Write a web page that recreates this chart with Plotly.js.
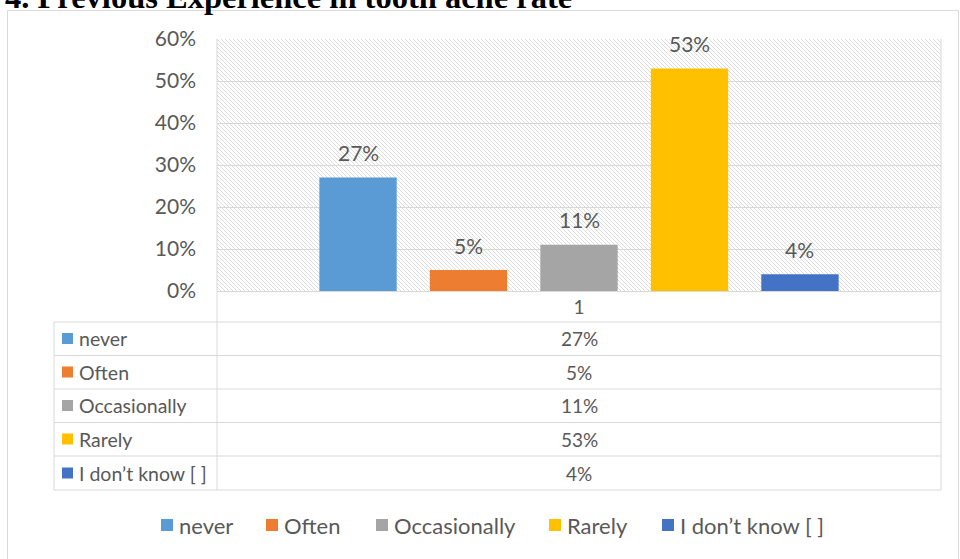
<!DOCTYPE html>
<html><head><meta charset="utf-8">
<script src="https://cdn.plot.ly/plotly-3.0.1.min.js"></script>
<style>html,body{margin:0;padding:0;background:#fff}#chart{width:960px;height:559px}</style>
</head><body><div id="chart"></div>
<script>
// ---- data ----
const chartTitle = "4. Previous Experience in tooth ache rate";
const category = ["1"];
const seriesNames = ["never", "Often", "Occasionally", "Rarely", "I don\u2019t know [ ]"];
const seriesValues = [0.27, 0.05, 0.11, 0.53, 0.04];
const seriesColors = ["#5B9BD5", "#ED7D31", "#A5A5A5", "#FFC000", "#4472C4"];
const yTickVals = [0, 0.1, 0.2, 0.3, 0.4, 0.5, 0.6];

// ---- layout helpers (pixel -> paper) ----
const L = 217, R = 941, T = 39, B = 291;
const px = p => (p - L) / (R - L);
const py = p => (B - p) / (B - T);
const grey = "#595959", line = "#d9d9d9", FONT = "Lato, 'Open Sans', sans-serif";
const pct = v => Math.round(v * 100) + "%";
const BARGAP = 0.237, GROUPGAP = 0.30;

const traces = seriesNames.map((n, i) => ({
  type: "bar", name: n, x: category, y: [seriesValues[i]],
  marker: { color: seriesColors[i] },
  hoverinfo: "skip"
}));

// hatch background
const hatch = '<svg xmlns="http://www.w3.org/2000/svg" width="724" height="252">' +
  '<defs><pattern id="h" width="4" height="4" patternUnits="userSpaceOnUse">' +
  '<path d="M-1,-1L5,5M-1,3L1,5M3,-1L5,1" stroke="#dcdcdc" stroke-width="1"/></pattern></defs>' +
  '<rect width="724" height="252" fill="url(#h)"/></svg>';

const shapes = [];
const hl = (y, x0, x1) => shapes.push({ type: "line", xref: "paper", yref: "paper", x0: px(x0), x1: px(x1), y0: py(y), y1: py(y), line: { color: line, width: 1 } });
const vl = (x, y0, y1) => shapes.push({ type: "line", xref: "paper", yref: "paper", x0: px(x), x1: px(x), y0: py(y0), y1: py(y1), line: { color: line, width: 1 } });
// outer frame
shapes.push({ type: "rect", xref: "paper", yref: "paper", x0: px(7.5), x1: px(958.5), y0: py(10.5), y1: py(570), line: { color: line, width: 1 }, layer: "below" });
// table grid
const rowLines = [322, 355.5, 389, 422.5, 456, 490];
rowLines.forEach(y => hl(y, 54, 941));
hl(291.5, 217, 941);
vl(54, 322, 490); vl(217, 39, 490); vl(941, 39, 490);

const annotations = [];
annotations.push({ xref: "paper", yref: "paper", x: px(3), y: py(-2.5), xanchor: "left", yanchor: "middle", showarrow: false,
  text: "<b>" + chartTitle + "</b>", font: { family: "'Liberation Serif', 'Times New Roman', serif", size: 32.5, color: "#000" } });
// data labels above bars (positioned on the data axes, centred over each grouped bar)
seriesValues.forEach((v, i) => {
  const slot = (1 - BARGAP) / seriesValues.length;
  annotations.push({ xref: "x", yref: "y", x: -0.5 + BARGAP / 2 + slot * (i + 0.5), y: v, yshift: 25,
    xanchor: "center", yanchor: "middle", showarrow: false, text: pct(v), font: { family: FONT, size: 21, color: grey } });
});
const rowCenters = [338.5, 372, 405.5, 439, 473];
seriesNames.forEach((n, i) => {
  const yc = rowCenters[i];
  shapes.push({ type: "rect", xref: "paper", yref: "paper", x0: px(62), x1: px(73), y0: py(yc - 5.5), y1: py(yc + 5.5), fillcolor: seriesColors[i], line: { width: 0 } });
  annotations.push({ xref: "paper", yref: "paper", x: px(77), y: py(yc), xanchor: "left", yanchor: "middle", showarrow: false, text: n, font: { family: FONT, size: 19.5, color: grey } });
  annotations.push({ xref: "paper", yref: "paper", x: 0.5, y: py(yc), xanchor: "center", yanchor: "middle", showarrow: false, text: pct(seriesValues[i]), font: { family: FONT, size: 19, color: grey } });
});
// legend (custom)
const legX = [161, 266, 376, 549, 662];
seriesNames.forEach((n, i) => {
  const yc = 525;
  shapes.push({ type: "rect", xref: "paper", yref: "paper", x0: px(legX[i]), x1: px(legX[i] + 12), y0: py(yc - 6), y1: py(yc + 6), fillcolor: seriesColors[i], line: { width: 0 } });
  annotations.push({ xref: "paper", yref: "paper", x: px(legX[i] + 16), y: py(yc), xanchor: "left", yanchor: "middle", showarrow: false, text: n, font: { family: FONT, size: 22, color: grey } });
});

const layout = {
  width: 960, height: 559,
  margin: { l: L, r: 960 - R, t: T, b: 559 - B, pad: 0 },
  paper_bgcolor: "#fff", plot_bgcolor: "rgba(0,0,0,0)",
  font: { family: FONT, color: grey },
  barmode: "group", bargap: BARGAP, bargroupgap: GROUPGAP,
  showlegend: false,
  xaxis: { type: "category", showgrid: false, zeroline: false, showline: false, ticks: "",
    tickfont: { family: FONT, size: 19, color: grey }, ticklabelstandoff: 3, fixedrange: true },
  yaxis: { range: [0, 0.6], tickvals: yTickVals, tickformat: ".0%", showgrid: true, gridcolor: line, gridwidth: 1,
    zeroline: false, showline: false, ticks: "", tickfont: { family: FONT, size: 21, color: grey }, ticklabelstandoff: 20, fixedrange: true },
  images: [{ source: "data:image/svg+xml;charset=utf-8," + encodeURIComponent(hatch), xref: "paper", yref: "paper",
    x: 0, y: 1, sizex: 1, sizey: 1, xanchor: "left", yanchor: "top", sizing: "stretch", layer: "below" }],
  shapes: shapes, annotations: annotations
};
Plotly.newPlot("chart", traces, layout, { displayModeBar: false, staticPlot: true });
</script></body></html>
